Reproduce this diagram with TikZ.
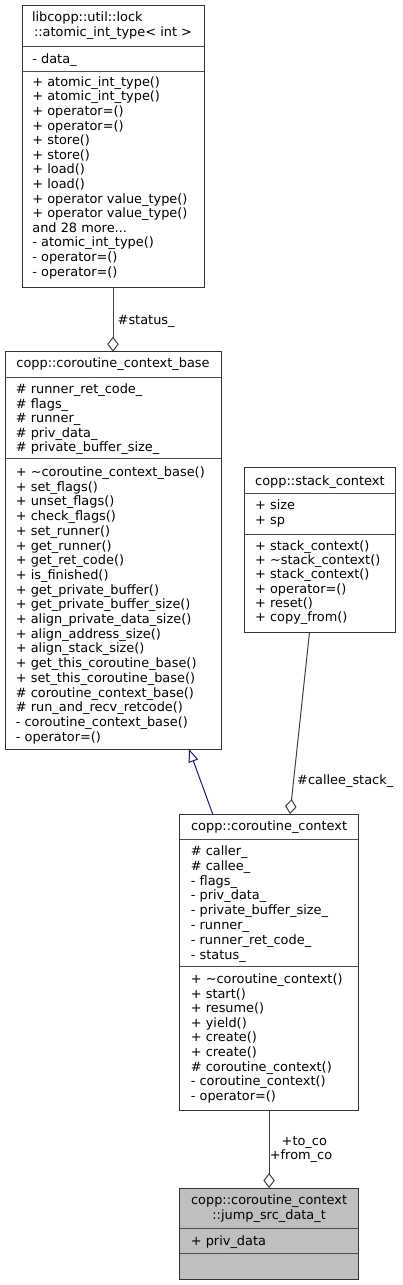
\documentclass[tikz,border=0pt]{standalone}
\usepackage{fontspec}
\setmainfont{DejaVu Sans}
\usetikzlibrary{arrows.meta,calc}
\definecolor{edgegray}{HTML}{404040}
\definecolor{navyedge}{HTML}{191970}
\definecolor{fillgray}{HTML}{BFBFBF}
\newcommand\dxfont{\fontsize{12.9}{14.6}\selectfont}
\begin{document}
\begin{tikzpicture}[x=1pt,y=-1pt,
  box/.style={draw=black!80, line width=1pt, anchor=north west, inner sep=0, outer sep=0, fill=white},
  txt/.style={anchor=base west, inner sep=0, font=\dxfont},
  ttl/.style={anchor=base, inner sep=0, font=\dxfont},
  sep/.style={draw=black!70, line width=1pt},
  agg/.style={draw=edgegray, line width=1pt, -{Diamond[open, length=15pt, width=11.5pt]}},
  inh/.style={draw=navyedge, line width=1pt, -{Triangle[open, length=13pt, width=10pt]}},
  lbl/.style={anchor=base west, inner sep=0, font=\dxfont}]
\useasboundingbox (0,0) rectangle (403,1285);

% ---- Box 1: atomic_int_type
\node[box, minimum width=182pt, minimum height=282pt] (b1) at (22,5) {};
\node[txt] (b1t1) at (31.8,21.5) {libcopp::util::lock};
\node[ttl] (b1t2) at (113,36.5) {::atomic\_int\_type< int >};
\draw[sep] (22,46.7) -- (204,46.7);
\node[txt] (b1a1) at (32.2,63.8) {- data\_};
\draw[sep] (22,71) -- (204,71);
\foreach \t [count=\i from 0] in {+ atomic\_int\_type(), + atomic\_int\_type(), + operator=(), + operator=(), + store(), + store(), + load(), + load(), + operator value\_type(), + operator value\_type(), {and 28 more.{}.{}.}, - atomic\_int\_type(), - operator=(), - operator=()}
  \node[txt] (b1m\i) at (32.2,86.2+14.6*\i) {\t};

% ---- Box 2: coroutine_context_base
\node[box, minimum width=216pt, minimum height=397.3pt] (b2) at (5,351.7) {};
\node[ttl] (b2t) at (113,367.5) {copp::coroutine\_context\_base};
\draw[sep] (5,377) -- (221,377);
\foreach \t [count=\i from 0] in {\# runner\_ret\_code\_, \# flags\_, \# runner\_, \# priv\_data\_, \# private\_buffer\_size\_}
  \node[txt] (b2a\i) at (15.7,393.8+14.5*\i) {\t};
\draw[sep] (5,458) -- (221,458);
\foreach \t [count=\i from 0] in {+ \textasciitilde coroutine\_context\_base(), + set\_flags(), + unset\_flags(), + check\_flags(), + set\_runner(), + get\_runner(), + get\_ret\_code(), + is\_finished(), + get\_private\_buffer(), + get\_private\_buffer\_size(), + align\_private\_data\_size(), + align\_address\_size(), + align\_stack\_size(), + get\_this\_coroutine\_base(), + set\_this\_coroutine\_base(), \# coroutine\_context\_base(), \# run\_and\_recv\_retcode(), - coroutine\_context\_base(), - operator=()}
  \node[txt] (b2m\i) at (15.7,476.5+14.7*\i) {\t};

% ---- Box 3: stack_context
\node[box, minimum width=151.7pt, minimum height=165pt] (b3) at (244,467.3) {};
\node[ttl] (b3t) at (319.9,485.2) {copp::stack\_context};
\draw[sep] (244,493.3) -- (395.7,493.3);
\foreach \t [count=\i from 0] in {+ size, + sp}
  \node[txt] (b3a\i) at (255,509.5+14.6*\i) {\t};
\draw[sep] (244,534) -- (395.7,534);
\foreach \t [count=\i from 0] in {+ stack\_context(), + \textasciitilde stack\_context(), + stack\_context(), + operator=(), + reset(), + copy\_from()}
  \node[txt] (b3m\i) at (255,550.5+14.2*\i) {\t};

% ---- Box 4: coroutine_context
\node[box, minimum width=179.2pt, minimum height=296pt] (b4) at (179.5,814) {};
\node[ttl] (b4t) at (269.1,830.5) {copp::coroutine\_context};
\draw[sep] (179.5,839.3) -- (358.7,839.3);
\foreach \t [count=\i from 0] in {\# caller\_, \# callee\_, - flags\_, - priv\_data\_, - private\_buffer\_size\_, - runner\_, - runner\_ret\_code\_, - status\_}
  \node[txt] (b4a\i) at (190.7,855.2+14.9*\i) {\t};
\draw[sep] (179.5,966.7) -- (358.7,966.7);
\foreach \t [count=\i from 0] in {+ \textasciitilde coroutine\_context(), + start(), + resume(), + yield(), + create(), + create(), \# coroutine\_context(), - coroutine\_context(), - operator=()}
  \node[txt] (b4m\i) at (190.7,983.5+14.6*\i) {\t};

% ---- Box 5: jump_src_data_t
\node[box, fill=fillgray, minimum width=179.2pt, minimum height=91.5pt] (b5) at (179.5,1188) {};
\node[ttl] (b5t1) at (269.1,1204.5) {copp::coroutine\_context};
\node[ttl] (b5t2) at (269.1,1219.5) {::jump\_src\_data\_t};
\draw[sep] (179.5,1228.3) -- (358.7,1228.3);
\node[txt] (b5a0) at (190.7,1245.2) {+ priv\_data};
\draw[sep] (179.5,1253.3) -- (358.7,1253.3);

% ---- Connectors
\draw[agg] (b1.south) -- (b2.north);
\node[lbl] (l1) at (117.5,324.5) {\#status\_};
\draw[agg] ($(b3.south west)+(65.5,0)$) -- ($(b4.north west)+(110.5,0)$);
\node[lbl] (l2) at (297,784.5) {\#callee\_stack\_};
\draw[inh] ($(b4.north west)+(33.2,0)$) -- ($(b2.south west)+(184,0)$);
\draw[agg] (b4.south) -- (b5.north);
\node[ttl] (l3) at (304.3,1145.2) {+to\_co};
\node[ttl] (l4) at (301,1159.5) {+from\_co};
\end{tikzpicture}
\end{document}
